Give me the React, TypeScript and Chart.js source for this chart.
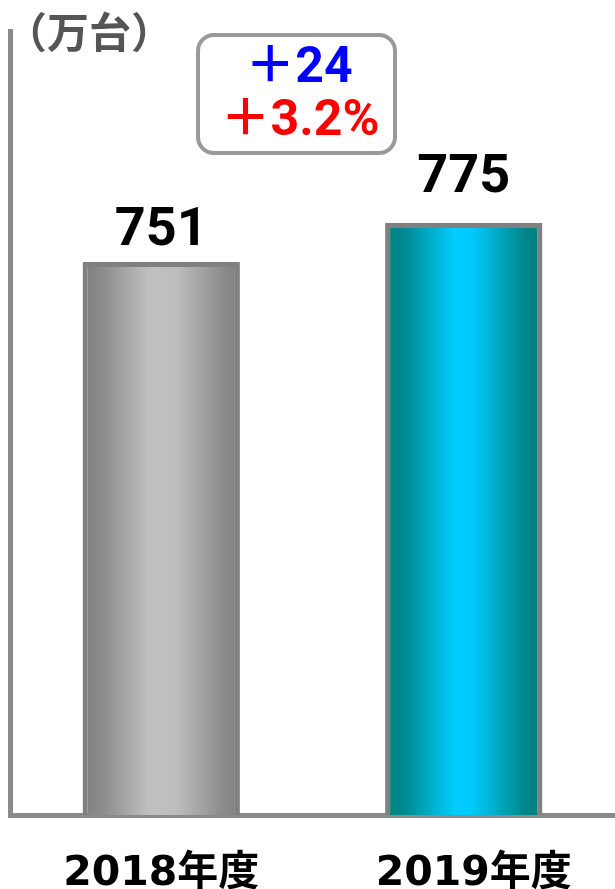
import React, { useEffect, useRef } from "react";
import { Chart, registerables } from "chart.js";

Chart.register(...registerables);

// 販売台数（万台）
const CATEGORIES = ["2018年度", "2019年度"];
const UNITS = [751, 775];
const UNIT_TITLE = "（万台）";

// value axis range (axis does not start at zero)
const Y_MIN = 411;
const Y_MAX = 893;

// bar fills: horizontal metallic gradients, one per bar
const BAR_GRADIENTS: [number, string][][] = [
  [
    [0, "#808080"],
    [0.12, "#8a8a8a"],
    [0.42, "#c0c0c0"],
    [0.6, "#bdbdbd"],
    [0.9, "#8a8a8a"],
    [1, "#808080"],
  ],
  [
    [0, "#008080"],
    [0.12, "#00898e"],
    [0.44, "#00ccff"],
    [0.56, "#00c8fa"],
    [0.9, "#008486"],
    [1, "#008080"],
  ],
];

const AXIS_COLOR = "#8a8a8a";
const LABEL_GAP = [17, 31];
const X_LABEL_SHIFT = [0, 10];

const diff = UNITS[1] - UNITS[0];
const DIFF_TEXT = "＋" + diff;
const RATE_TEXT = "＋" + ((diff / UNITS[0]) * 100).toFixed(1) + "%";

const gradientPlugin = {
  id: "barGradient",
  beforeDatasetsDraw(chart: any) {
    const ctx = chart.ctx;
    chart.getDatasetMeta(0).data.forEach((el: any, i: number) => {
      const { x, width } = el.getProps(["x", "width"], true);
      const g = ctx.createLinearGradient(x - width / 2, 0, x + width / 2, 0);
      BAR_GRADIENTS[i].forEach(([stop, color]) => g.addColorStop(stop, color));
      el.options.backgroundColor = g;
    });
  },
};

const textPlugin = {
  id: "chartTexts",
  afterDraw(chart: any) {
    const ctx = chart.ctx;
    const xScale = chart.scales.x;
    ctx.save();

    // unit title
    ctx.fillStyle = "#555555";
    ctx.font = '700 42px "Noto Sans CJK JP"';
    ctx.textAlign = "left";
    ctx.textBaseline = "alphabetic";
    ctx.fillText(UNIT_TITLE, 5, 48);

    // value labels above the bars
    ctx.fillStyle = "#000000";
    ctx.font = '700 54px Roboto, "Noto Sans CJK JP"';
    ctx.textAlign = "center";
    chart.getDatasetMeta(0).data.forEach((el: any, i: number) => {
      const { x, y } = el.getProps(["x", "y"], true);
      ctx.fillText(String(UNITS[i]), x, y - LABEL_GAP[i]);
    });

    // category labels
    ctx.font = '700 41px "DejaVu Sans", "Noto Sans CJK JP"';
    CATEGORIES.forEach((label, i) => {
      ctx.fillText(label, xScale.getPixelForValue(i) + X_LABEL_SHIFT[i], 885);
    });

    // change box
    ctx.beginPath();
    ctx.roundRect(198, 35, 197, 118, 16);
    ctx.fillStyle = "#ffffff";
    ctx.fill();
    ctx.lineWidth = 4;
    ctx.strokeStyle = "#999999";
    ctx.stroke();

    ctx.font = '700 50px Roboto, "Noto Sans CJK JP"';
    ctx.fillStyle = "#0000ff";
    ctx.fillText(DIFF_TEXT, 299, 82);
    ctx.fillStyle = "#ff0000";
    ctx.fillText(RATE_TEXT, 300, 135);

    ctx.restore();
  },
};

export default function App() {
  const canvasRef = useRef<HTMLCanvasElement>(null);

  useEffect(() => {
    if (!canvasRef.current) return;
    const chart = new Chart(canvasRef.current, {
      type: "bar",
      data: {
        labels: CATEGORIES,
        datasets: [
          {
            data: UNITS,
            backgroundColor: (c: any) => (c.dataIndex === 0 ? "#a0a0a0" : "#00b0e0"),
            borderColor: "#808080",
            borderWidth: 5,
            borderSkipped: "start",
            categoryPercentage: 1,
            barPercentage: 0.52,
          },
        ],
      },
      options: {
        responsive: false,
        animation: false,
        devicePixelRatio: 1,
        layout: { padding: { left: 10, top: 31, right: 0, bottom: 74 } },
        plugins: {
          legend: { display: false },
          tooltip: { enabled: false },
        },
        events: [],
        scales: {
          x: {
            z: 1,
            grid: { display: false },
            ticks: { display: false },
            border: { display: true, color: AXIS_COLOR, width: 5 },
            afterFit: (s: any) => {
              s.height = 0;
            },
          },
          y: {
            z: 1,
            min: Y_MIN,
            max: Y_MAX,
            grid: { display: false },
            ticks: { display: false },
            border: { display: true, color: AXIS_COLOR, width: 5 },
            afterFit: (s: any) => {
              s.width = 0;
            },
          },
        },
      },
      plugins: [gradientPlugin, textPlugin],
    });
    return () => chart.destroy();
  }, []);

  return (
    <div style={{ position: "absolute", left: 0, top: 0, width: 615, height: 889, background: "#ffffff" }}>
      <canvas ref={canvasRef} width={615} height={889} style={{ display: "block" }} />
    </div>
  );
}
